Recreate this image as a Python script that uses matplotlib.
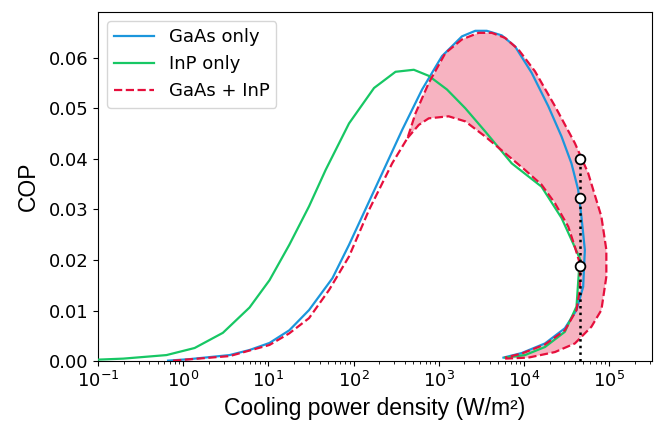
import numpy as np
import matplotlib.pyplot as plt

# GaAs only
gaas_x = [0.664, 1.19, 3.5, 6.0, 10.3, 17.6, 30, 56.5, 88.5, 199, 372, 638, 1093,
          1874, 2687, 3673, 5500, 7890, 12340, 19350, 27700, 36200, 43400, 47400,
          52000, 49700, 41500, 30300, 17700, 9420, 5760]
gaas_y = [0.0001, 0.0004, 0.0012, 0.0022, 0.0036, 0.0061, 0.0101, 0.0164, 0.0230,
          0.0358, 0.0457, 0.0537, 0.0603, 0.0642, 0.0653, 0.0653, 0.0644, 0.0622,
          0.0570, 0.0504, 0.0444, 0.0391, 0.0339, 0.0286, 0.0220, 0.0147, 0.0101,
          0.0065, 0.0035, 0.0016, 0.0007]

# InP only
inp_x = [0.1, 0.198, 0.635, 1.36, 2.92, 6.0, 10.3, 17.6, 30, 47, 88.5, 174, 311,
         510, 764, 1250, 2050, 3516, 7200, 16100, 27700, 36200, 45400, 41500,
         30300, 17700, 10300, 6030]
inp_y = [0.0003, 0.0005, 0.0012, 0.0026, 0.0056, 0.0106, 0.0160, 0.0230, 0.0306,
         0.0378, 0.0470, 0.0540, 0.0572, 0.0576, 0.0564, 0.0537, 0.0500, 0.0454,
         0.0391, 0.0345, 0.0283, 0.0240, 0.0203, 0.0108, 0.0058, 0.0028, 0.0012,
         0.0007]

# GaAs + InP, outer envelope
both_hi_x = [0.76, 3.5, 10.3, 17.6, 30, 51.7, 88.5, 152, 284, 430, 534, 764, 1197,
             1874, 2938, 4200, 6030, 8630, 13500, 23200, 39700, 56800, 81300,
             93000, 93000, 81300, 62100, 39700, 23200, 11300, 6030]
both_hi_y = [0.0001, 0.0010, 0.0032, 0.0055, 0.0085, 0.0141, 0.0207, 0.0299,
             0.0391, 0.0441, 0.0490, 0.0550, 0.0609, 0.0636, 0.0649, 0.0649,
             0.0639, 0.0616, 0.0573, 0.0504, 0.0431, 0.0372, 0.0286, 0.0220,
             0.0167, 0.0101, 0.0068, 0.0035, 0.0018, 0.0007, 0.0005]

# GaAs + InP, inner envelope (branches off at 430 W/m2)
both_lo_x = [430, 583, 764, 1309, 2050, 3516, 6030, 10300, 16100, 23200, 33200,
             39700, 45400, 45400, 41500, 30300, 17700, 9420, 6030]
both_lo_y = [0.0441, 0.0467, 0.0480, 0.0484, 0.0474, 0.0444, 0.0411, 0.0378,
             0.0349, 0.0312, 0.0266, 0.0226, 0.0193, 0.0141, 0.0101, 0.0061,
             0.0033, 0.0015, 0.0007]

# operating points
op_x = 46200
op_y = [0.0399, 0.0323, 0.0188]

blue = '#1b96dc'
green = '#17c764'
red = '#e60f3c'

fig = plt.figure(figsize=(6.54, 4.32), dpi=100)
ax = fig.add_axes([0.150, 0.164, 0.847, 0.808])

# shaded band between the two envelopes
split = both_hi_x.index(430)
poly_x = both_hi_x[split:] + both_lo_x[::-1]
poly_y = both_hi_y[split:] + both_lo_y[::-1]
ax.fill(poly_x, poly_y, color='#f7b3c1', lw=0, zorder=1)

ax.plot(gaas_x, gaas_y, color=blue, lw=1.6, label='GaAs only', zorder=3)
ax.plot(inp_x, inp_y, color=green, lw=1.6, label='InP only', zorder=3)
ax.plot(both_hi_x, both_hi_y, color=red, lw=1.6, ls='--', label='GaAs + InP', zorder=4)
ax.plot(both_lo_x, both_lo_y, color=red, lw=1.6, ls='--', zorder=4)

ax.plot([op_x, op_x], [0, op_y[0]], color='black', ls=':', lw=1.8, zorder=5)
ax.plot([op_x] * 3, op_y, 'o', ms=7, mfc='white', mec='black', mew=1.3, ls='none', zorder=6)

ax.set_xscale('log')
ax.set_xlim(0.1, 3.2e5)
ax.set_ylim(0, 0.069)
ax.set_yticks([0, 0.01, 0.02, 0.03, 0.04, 0.05, 0.06])
ax.set_yticklabels(['0.00', '0.01', '0.02', '0.03', '0.04', '0.05', '0.06'])
ax.tick_params(labelsize=13)
ax.set_xlabel('Cooling power density (W/m²)', fontsize=16.5, family='Liberation Sans', labelpad=4)
ax.set_ylabel('COP', fontsize=16.5, family='Liberation Sans', labelpad=6)
ax.legend(loc='upper left', fontsize=13, handlelength=2.2)

fig.savefig('out.png', dpi=100)
